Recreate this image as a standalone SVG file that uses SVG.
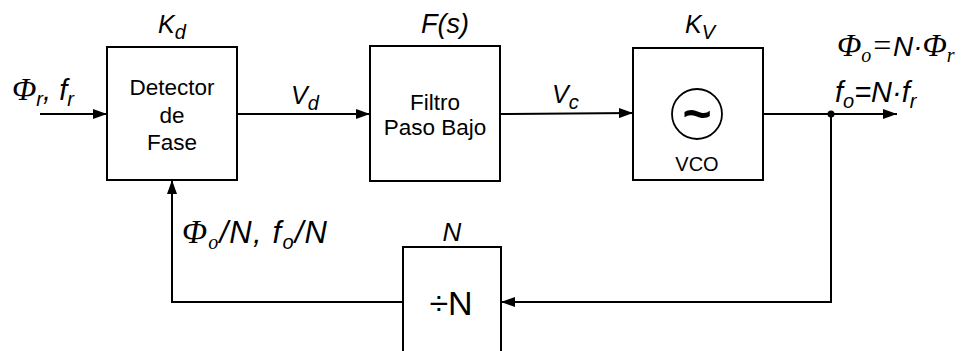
<svg xmlns="http://www.w3.org/2000/svg" width="961" height="351" viewBox="0 0 961 351">
<style>
.box{fill:#fff;stroke:#000;stroke-width:2}
.ln{fill:none;stroke:#000;stroke-width:2}
.t{font-family:"Liberation Sans",Arial,sans-serif;font-size:22.5px;fill:#000}
.lb{font-family:"Liberation Sans",Arial,sans-serif;font-size:25px;font-style:italic;fill:#000}
.eq{font-size:29px}
.ph{font-family:"Liberation Serif","Times New Roman",serif;font-style:italic;font-size:32px}
.sub{font-size:20px}
.so{font-family:"Liberation Serif","Times New Roman",serif}
</style>
<defs>
<marker id="ah" markerWidth="14" markerHeight="10" refX="14" refY="5" orient="auto" markerUnits="userSpaceOnUse">
<path d="M0,0 L14,5 L0,10 Z" fill="#000"/>
</marker>
</defs>
<rect width="961" height="351" fill="#fff"/>
<g id="connectors">
<line class="ln" x1="40" y1="114" x2="107" y2="114" marker-end="url(#ah)"/>
<line class="ln" x1="237" y1="114" x2="370" y2="114" marker-end="url(#ah)"/>
<line class="ln" x1="500" y1="114" x2="633" y2="113" marker-end="url(#ah)"/>
<line class="ln" x1="763" y1="114" x2="897" y2="114" marker-end="url(#ah)"/>
<circle cx="831" cy="114" r="3.5" fill="#000"/>
<polyline class="ln" points="831,114 831,302 501,302" marker-end="url(#ah)"/>
<polyline class="ln" points="403,302 172,302 172,180" marker-end="url(#ah)"/>
</g>
<g id="detector">
<rect class="box" x="107" y="47" width="130" height="133"/>
<text class="t" x="172" y="95" text-anchor="middle">Detector</text>
<text class="t" x="172" y="123" text-anchor="middle">de</text>
<text class="t" x="172" y="150" text-anchor="middle">Fase</text>
<text class="lb" x="158" y="33">K<tspan class="sub" dy="6">d</tspan></text>
</g>
<g id="filtro">
<rect class="box" x="370" y="46" width="130" height="135"/>
<text class="t" x="435" y="110" text-anchor="middle">Filtro</text>
<text class="t" x="435" y="135" text-anchor="middle">Paso Bajo</text>
<text class="lb" x="421" y="33" style="font-size:27px">F(s)</text>
</g>
<g id="vco">
<rect class="box" x="633" y="48" width="130" height="132"/>
<circle cx="697" cy="114" r="25" fill="none" stroke="#000" stroke-width="1.8"/>
<text x="697" y="131" text-anchor="middle" font-family="Liberation Sans,Arial,sans-serif" font-size="50" font-weight="bold">~</text>
<text class="t" x="697" y="171" text-anchor="middle" style="font-size:20px">VCO</text>
<text class="lb" x="685" y="33">K<tspan class="sub" dy="6">V</tspan></text>
</g>
<g id="divisor">
<rect class="box" x="403" y="247" width="98" height="120"/>
<text class="t" x="451" y="315" text-anchor="middle" style="font-size:34px">÷N</text>
<text class="lb" x="452" y="241" text-anchor="middle" style="font-size:26px">N</text>
</g>
<g id="labels">
<text class="lb eq" x="12" y="100"><tspan class="ph">Φ</tspan><tspan class="sub" dy="6">r</tspan><tspan dy="-6">, f</tspan><tspan class="sub" dy="6">r</tspan></text>
<text class="lb" x="291" y="104">V<tspan class="sub" dy="6">d</tspan></text>
<text class="lb" x="552" y="103">V<tspan class="sub" dy="6">c</tspan></text>
<text class="lb" x="837" y="56" style="font-size:28px"><tspan class="ph">Φ</tspan><tspan class="sub so" dy="6">o</tspan><tspan class="ph" dy="-6">=</tspan>N·<tspan class="ph">Φ</tspan><tspan class="sub so" dy="6">r</tspan></text>
<text class="lb eq" x="835" y="102">f<tspan class="sub" dy="6">o</tspan><tspan dy="-6">=N·f</tspan><tspan class="sub" dy="6">r</tspan></text>
<text class="lb" x="182" y="243" style="font-size:31px" textLength="145" lengthAdjust="spacing"><tspan class="ph" style="font-size:33px">Φ</tspan><tspan class="sub so" dy="6">o</tspan><tspan dy="-6">/N, f</tspan><tspan class="sub" dy="6">o</tspan><tspan dy="-6">/N</tspan></text>
</g>
</svg>
